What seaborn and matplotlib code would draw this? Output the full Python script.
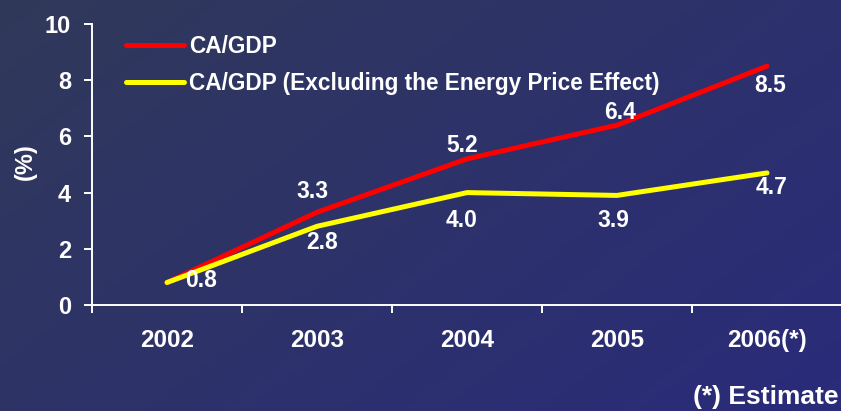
import numpy as np
import pandas as pd
import seaborn as sns
import matplotlib
matplotlib.use("Agg")
import matplotlib.pyplot as plt

# ************* DATA *****************
years = ["2002", "2003", "2004", "2005", "2006(*)"]
ca_gdp = [0.8, 3.3, 5.2, 6.4, 8.5]
ca_gdp_ex_energy = [0.8, 2.8, 4.0, 3.9, 4.7]
y_ticks = [0, 2, 4, 6, 8, 10]

name_red = "CA/GDP"
name_yel = "CA/GDP (Excluding the Energy Price Effect)"

df = pd.DataFrame({
    "year": years * 2,
    "pos": list(range(len(years))) * 2,
    "value": ca_gdp + ca_gdp_ex_energy,
    "series": [name_red] * len(years) + [name_yel] * len(years),
})

sns.set_style("white")
plt.rcParams["font.family"] = ["Liberation Sans", "DejaVu Sans"]
plt.rcParams["font.weight"] = "bold"

fig = plt.figure(figsize=(8.41, 4.11), dpi=100)

# background gradient (diagonal, grey-navy to blue)
bg = fig.add_axes([0, 0, 1, 1], zorder=-10)
gx, gy = np.meshgrid(np.linspace(0, 1, 200), np.linspace(0, 1, 100))
t = (gx * 0.6 + gy * 0.4)
c0 = np.array([0x31, 0x39, 0x5a]) / 255
c1 = np.array([0x2a, 0x2b, 0x7a]) / 255
img = c0[None, None, :] * (1 - t[..., None]) + c1[None, None, :] * t[..., None]
bg.imshow(img, aspect="auto", extent=[0, 1, 0, 1])
bg.axis("off")

ax = fig.add_axes([92 / 841, 1 - 305 / 411, 750 / 841, 281 / 411])
ax.patch.set_alpha(0)

sns.lineplot(data=df, x="pos", y="value", hue="series",
             palette={name_red: "#ff0000", name_yel: "#ffff00"},
             linewidth=3.6, ax=ax, sort=False, legend=True)
for ln in ax.lines:
    ln.set_solid_capstyle("round")
    ln.set_solid_joinstyle("round")

ax.set_xlim(-0.5, len(years) - 0.5)
ax.set_ylim(0, 10)
ax.set_yticks(y_ticks)
ax.set_xticks(range(len(years)))
ax.set_xticklabels(years)
ax.set_xticks(np.arange(-0.5, len(years), 1), minor=True)

for s in ["top", "right"]:
    ax.spines[s].set_visible(False)
for s in ["left", "bottom"]:
    ax.spines[s].set_color("white")
    ax.spines[s].set_linewidth(1.4)

ax.tick_params(axis="y", which="major", colors="white", length=6, width=1.4,
               labelsize=17, pad=9, left=True)
ax.tick_params(axis="x", which="major", length=0, labelsize=17.5, labelcolor="white", pad=17)
ax.tick_params(axis="x", which="minor", colors="white", length=6, width=1.4, bottom=True)
ax.set_xlabel("")
ax.set_ylabel("")
fig.text(25 / 841, 1 - 162 / 411, "(%)", rotation=90, ha="center", va="center",
         color="white", fontsize=17, fontweight="bold")

# data label offsets in pixels (dx, dy; dy positive = up)
red_off = [None, (-5, 21), (-5, 13), (3, 13), (3, -19)]
yel_off = [(34, 2), (5, -16), (-5, -28), (-4, -25), (5, -15)]

for i, v in enumerate(ca_gdp):
    if red_off[i] is None:
        continue
    ax.annotate(f"{v:.1f}", (i, v), xytext=red_off[i], textcoords="offset pixels",
                ha="center", va="center", color="white", fontsize=16.5, fontweight="bold")
for i, v in enumerate(ca_gdp_ex_energy):
    ax.annotate(f"{v:.1f}", (i, v), xytext=yel_off[i], textcoords="offset pixels",
                ha="center", va="center", color="white", fontsize=16.5, fontweight="bold")

leg = ax.legend(loc="upper left", bbox_to_anchor=(0.027, 1.01), frameon=False,
                fontsize=16.3, handlelength=2.55, handletextpad=0.25, labelspacing=0.62,
                borderaxespad=0.2)
for txt in leg.get_texts():
    txt.set_color("white")
    txt.set_fontweight("bold")
for h in leg.get_lines():
    h.set_linewidth(3.6)

fig.text(0.997, 1 - 397 / 411, "(*) Estimate", ha="right", va="center", color="white",
         fontsize=19, fontweight="bold")

fig.savefig("out.png", dpi=100)
